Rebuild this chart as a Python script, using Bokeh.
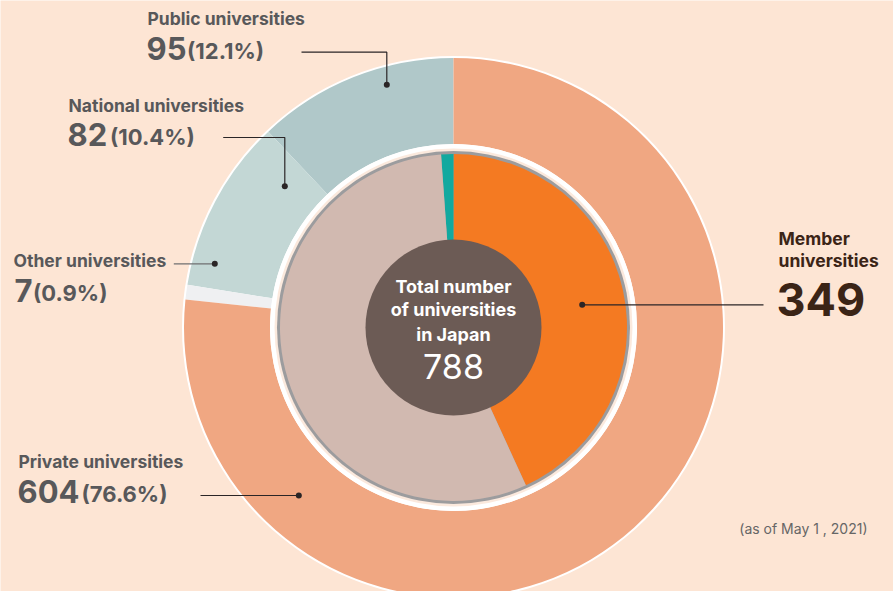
import numpy as np
from bokeh.plotting import figure
from bokeh.models import Range1d
from bokeh.core.properties import value
from bokeh.embed import file_html
from bokeh.resources import INLINE

# ---------------- data ----------------
outer_categories = ["Public universities", "National universities", "Other universities", "Private universities"]
outer_values = [95, 82, 7, 604]
outer_pct_labels = ["(12.1%)", "(10.4%)", "(0.9%)", "(76.6%)"]
outer_colors = ["#b0c8c9", "#c3d7d5", "#eff0f2", "#f0a782"]

inner_categories = ["Member (private)", "Member (national/public)", "Non-member"]
inner_values = [340, 9, 439]
inner_colors = ["#f47a22", "#12a99f", "#d1b9b0"]

member_total = 349
total = 788
note = "(as of May 1 , 2021)"

# ---------------- layout ----------------
W, H = 893, 591
BG = "#fde5d4"
FONT = value("Inter")
K = 0.42  # baseline correction (fraction of font size)


def Y(py):
    return H - py


def TY(py, size):
    return H - (py - K * size)


cx, cy = 453, Y(327)

p = figure(width=W, height=H, x_range=Range1d(0, W), y_range=Range1d(0, H),
           output_backend="svg", toolbar_location=None, min_border=0,
           x_axis_location=None, y_axis_location=None,
           background_fill_color=BG, border_fill_color=BG, outline_line_color=None)
p.grid.visible = False

# outer ring
p.circle(x=[cx], y=[cy], radius=271.5, fill_color="white", line_color=None)
ov = np.array(outer_values, dtype=float)
oang = ov / ov.sum() * 2 * np.pi
ostart = np.pi / 2 + np.concatenate([[0], np.cumsum(oang)[:-1]])
oend = ostart + oang
p.annular_wedge(x=cx, y=cy, inner_radius=183.5, outer_radius=269.5,
                start_angle=list(ostart), end_angle=list(oend),
                fill_color=outer_colors, line_color=None, direction="anticlock")

# separation rings
p.circle(x=[cx], y=[cy], radius=183.5, fill_color="white", line_color=None)
p.circle(x=[cx], y=[cy], radius=179, fill_color="#fbe9dd", line_color=None)
p.circle(x=[cx], y=[cy], radius=176.5, fill_color="#9c9c9e", line_color=None)

# inner pie
iv = np.array(inner_values, dtype=float)
iang = iv / iv.sum() * 2 * np.pi
istart = np.pi / 2 - iang[0] + np.concatenate([[0], np.cumsum(iang)[:-1]])
iend = istart + iang
p.wedge(x=cx, y=cy, radius=173.5, start_angle=list(istart), end_angle=list(iend),
        fill_color=inner_colors, line_color=None, direction="anticlock")

# center disc
p.circle(x=[cx], y=[cy], radius=88, fill_color="#6c5b55", line_color=None)

# leader lines
DARK = "#2a2526"
p.line(x=[301, 386.3, 386.3], y=[Y(51.7), Y(51.7), Y(84.3)], line_color=DARK, line_width=1.2)
p.line(x=[222.7, 284.3, 284.3], y=[Y(137), Y(137), Y(185.7)], line_color=DARK, line_width=1.2)
p.line(x=[173.3, 214.3], y=[Y(263.3), Y(263.3)], line_color="#6f6f71", line_width=1.2)
p.line(x=[200, 298.3], y=[Y(495), Y(495)], line_color=DARK, line_width=1.2)
p.line(x=[581.7, 763], y=[Y(304.3), Y(304.3)], line_color=DARK, line_width=1.2)
p.scatter(x=[386.3, 284.3, 214.3, 298.3, 581.7],
          y=[Y(84.3), Y(185.7), Y(263.3), Y(495), Y(304.3)],
          size=6, fill_color=DARK, line_color=None)

# category labels
GRAY = "#58585a"
LS, NS, PS = 17.5, 31, 22
lab_pos = [(147, 25), (68, 112.5), (13, 267.5), (18, 468.5)]
num_pos = [(146, 61), (67, 147.5), (14, 303), (17, 504)]
pct_pos = [(186.5, 59.5), (109.5, 146), (32.5, 301.5), (81, 502.5)]
p.text(x=[a for a, b in lab_pos], y=[TY(b, LS) for a, b in lab_pos], text=outer_categories,
       text_font=FONT, text_font_size=f"{LS}px", text_font_style="bold",
       text_color=GRAY, text_baseline="alphabetic", text_align="left")
p.text(x=[a for a, b in num_pos], y=[TY(b, NS) for a, b in num_pos], text=[str(v) for v in outer_values],
       text_font=FONT, text_font_size=f"{NS}px", text_font_style="bold",
       text_color=GRAY, text_baseline="alphabetic", text_align="left")
p.text(x=[a for a, b in pct_pos], y=[TY(b, PS) for a, b in pct_pos], text=outer_pct_labels,
       text_font=FONT, text_font_size=f"{PS}px", text_font_style="bold",
       text_color=GRAY, text_baseline="alphabetic", text_align="left")

# member label
BROWN = "#3b2416"
MS, BS = 17.5, 45
p.text(x=[778, 778], y=[TY(245, MS), TY(267, MS)], text=["Member", "universities"],
       text_font=FONT, text_font_size=f"{MS}px", text_font_style="bold",
       text_color=BROWN, text_baseline="alphabetic", text_align="left")
p.text(x=[776], y=[TY(317.5, BS)], text=[str(member_total)],
       text_font=FONT, text_font_size=f"{BS}px", text_font_style="bold",
       text_color=BROWN, text_baseline="alphabetic", text_align="left")

# center text
CS, TS = 18, 34
p.text(x=[cx, cx, cx], y=[TY(293.5, CS), TY(317, CS), TY(341.5, CS)],
       text=["Total number", "of universities", "in Japan"],
       text_font=FONT, text_font_size=f"{CS}px", text_font_style="bold",
       text_color="white", text_baseline="alphabetic", text_align="center")
p.text(x=[cx], y=[TY(380.5, TS)], text=[str(total)],
       text_font=FONT, text_font_size=f"{TS}px", text_font_style="normal",
       text_color="white", text_baseline="alphabetic", text_align="center")

# note
NTS = 14
p.text(x=[867], y=[TY(534, NTS)], text=[note], text_font=FONT, text_font_size=f"{NTS}px",
       text_color="#666666", text_baseline="alphabetic", text_align="right")

open("out.html", "w").write(file_html(p, INLINE))
